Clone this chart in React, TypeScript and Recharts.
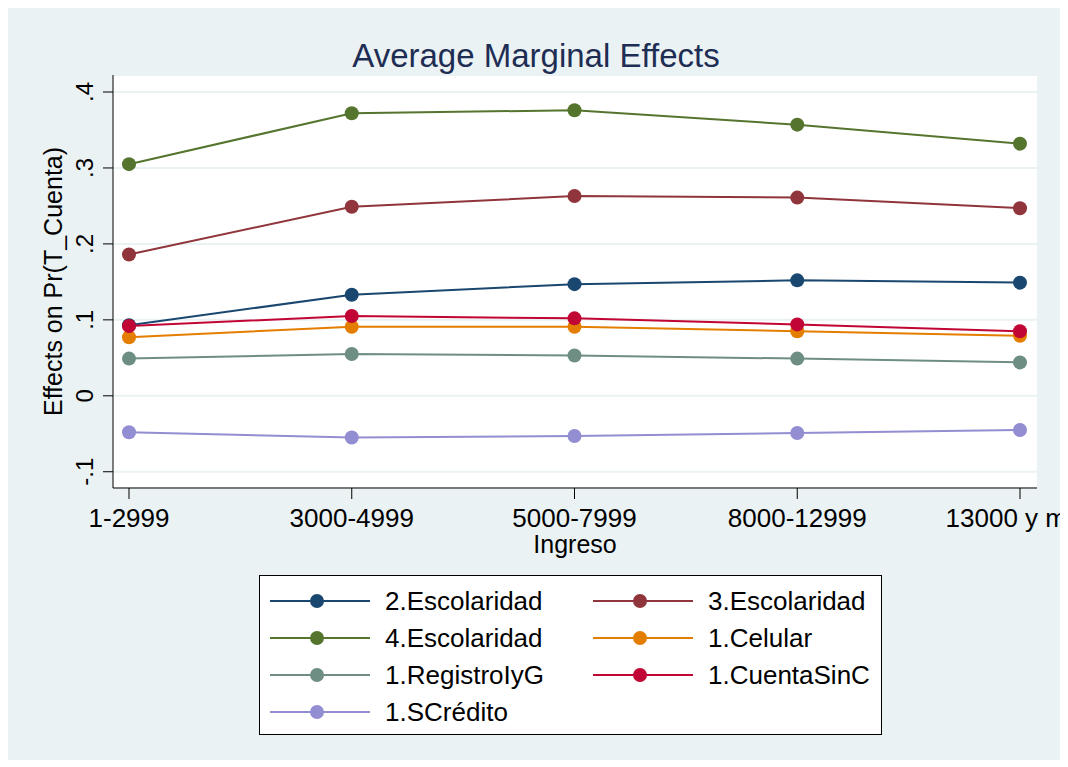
import React from "react";
import { LineChart, Line, XAxis, YAxis, CartesianGrid } from "recharts";

// Ingreso categories (last label is clipped by the graph edge, as in the original)
const categories = ["1-2999", "3000-4999", "5000-7999", "8000-12999", "13000 y más"];

const esc2 = [0.093, 0.133, 0.147, 0.152, 0.149];
const esc3 = [0.186, 0.249, 0.263, 0.261, 0.247];
const esc4 = [0.305, 0.372, 0.376, 0.357, 0.332];
const celular = [0.077, 0.091, 0.091, 0.085, 0.079];
const registro = [0.049, 0.055, 0.053, 0.049, 0.044];
const cuenta = [0.092, 0.105, 0.102, 0.094, 0.085];
const scredito = [-0.048, -0.055, -0.053, -0.049, -0.045];

const yTicks = [-0.1, 0, 0.1, 0.2, 0.3, 0.4];

const series = [
  { key: "esc2", name: "2.Escolaridad", color: "#1A476F", values: esc2 },
  { key: "esc3", name: "3.Escolaridad", color: "#90353B", values: esc3 },
  { key: "esc4", name: "4.Escolaridad", color: "#55752F", values: esc4 },
  { key: "celular", name: "1.Celular", color: "#E37E00", values: celular },
  { key: "registro", name: "1.RegistroIyG", color: "#6E8E84", values: registro },
  { key: "cuenta", name: "1.CuentaSinC", color: "#C10534", values: cuenta },
  { key: "scredito", name: "1.SCrédito", color: "#938DD2", values: scredito },
];

const data = categories.map((cat, i) => {
  const row: Record<string, any> = { cat };
  series.forEach((s) => (row[s.key] = s.values[i]));
  return row;
});

const FONT = '"Liberation Sans", Arial, sans-serif';
const BG = "#EAF2F3";

// stata style: .1 instead of 0.1
const fmt = (v: number) =>
  v === 0 ? "0" : (v < 0 ? "-" : "") + String(Math.abs(v)).replace(/^0/, "");

function YTick({ x, y, payload }: any) {
  return (
    <text x={x} y={y} transform={`rotate(-90 ${x} ${y})`} textAnchor="middle"
      fontSize={24} fill="#000" fontFamily={FONT}>
      {fmt(payload.value)}
    </text>
  );
}

function YLabel({ viewBox }: any) {
  const x = viewBox.x + 9;
  const y = viewBox.y + viewBox.height / 2;
  return (
    <text x={x} y={y} transform={`rotate(-90 ${x} ${y})`} textAnchor="middle"
      fontSize={25} fill="#000" fontFamily={FONT}>
      Effects on Pr(T_Cuenta)
    </text>
  );
}

function Item({ c, t, left, top }: { c: string; t: string; left: number; top: number }) {
  return (
    <div style={{ position: "absolute", left, top: top - 18, height: 36, display: "flex", alignItems: "center" }}>
      <svg width="100" height="36">
        <line x1="0" y1="18" x2="100" y2="18" stroke={c} strokeWidth="2" />
        <circle cx="47" cy="18" r="7" fill={c} />
      </svg>
      <span style={{ marginLeft: 15, fontSize: 26, color: "#000", whiteSpace: "nowrap" }}>{t}</span>
    </div>
  );
}

export default function App() {
  const rows = [25, 62, 99, 136];
  return (
    <div style={{ position: "relative", top: -2, width: 1056, height: 754, background: BG,
      fontFamily: FONT, overflow: "hidden" }}>
      <div style={{ position: "absolute", left: 0, top: 33, width: 1056, textAlign: "center",
        fontSize: 33, lineHeight: "33px", color: "#1E2D53" }}>
        Average Marginal Effects
      </div>

      <LineChart width={1054} height={570} data={data}
        margin={{ top: 69, right: 25, bottom: 8, left: 45 }}>
        <CartesianGrid vertical={false} horizontal fill="#fff" stroke={BG} strokeWidth={2} />
        <XAxis dataKey="cat" padding={{ left: 16, right: 17 }} interval={0} height={80}
          tickSize={11} tickMargin={10} stroke="#000"
          tick={{ fontSize: 26, fill: "#000", fontFamily: FONT }}
          label={{ value: "Ingreso", position: "insideBottom", offset: 15, fontSize: 25, fill: "#000", fontFamily: FONT }} />
        <YAxis type="number" domain={[-0.1214, 0.4224]} ticks={yTicks} width={60}
          tickSize={10} tickMargin={10} stroke="#000" tick={<YTick />}
          allowDataOverflow label={<YLabel />} />
        {series.map((s) => (
          <Line key={s.key} dataKey={s.key} stroke={s.color} strokeWidth={2}
            dot={{ r: 7, fill: s.color, stroke: "none" }} activeDot={false}
            isAnimationActive={false} />
        ))}
      </LineChart>

      <div style={{ position: "absolute", left: 251, top: 569, width: 621, height: 158,
        background: "#fff", border: "1px solid #000" }}>
        {series.map((s, i) => (
          <Item key={s.key} c={s.color} t={s.name}
            left={i % 2 === 0 ? 10 : 333} top={rows[Math.floor(i / 2)]} />
        ))}
      </div>
    </div>
  );
}
